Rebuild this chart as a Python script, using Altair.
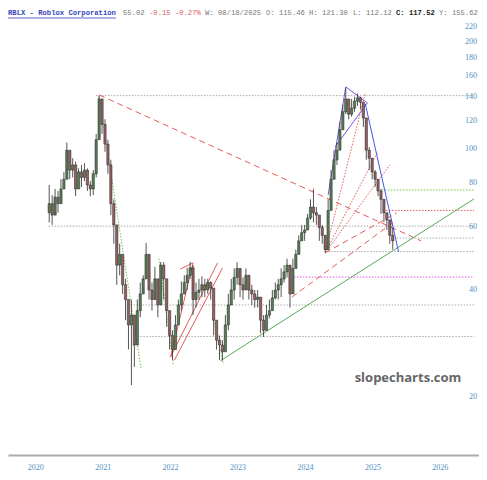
import altair as alt
import pandas as pd

# ---------------- data ----------------
closes = [70, 65, 73, 70, 77, 82, 99, 87, 90, 77,
          86, 83, 87, 79, 77, 85, 106, 138, 117, 103,
          90, 70, 61, 47, 50.4, 41.4, 37.6, 31.9, 34, 28,
          35, 39, 43, 50.4, 40, 37.6, 43, 36.3, 47, 43,
          35, 29.8, 27.2, 31.9, 36.3, 39, 42, 44, 46.2, 37.6,
          39.4, 40, 41.4, 40, 42, 40.5, 32.9, 28.9, 28, 26.8,
          31.9, 36.3, 40, 43.4, 46, 41.4, 40, 44, 40, 39,
          37.6, 38.2, 32.9, 30.8, 34, 35, 38, 40, 41.4, 43,
          45, 47, 39, 46, 50.4, 55, 58, 59, 63.8, 68.5,
          66, 65, 60, 57, 52, 67, 82, 93, 99, 113,
          127, 138, 125, 130, 136, 139, 135, 122, 99, 94,
          86, 82, 76, 72, 66, 63, 57, 55]
highs = [79, 74, 77, 76, 82, 86, 104, 99, 94, 92,
         88, 90, 91, 88, 81, 87, 110, 141, 129, 121,
         106, 93, 72, 57, 54, 50.4, 43, 37.6, 37.6, 32.9,
         37.6, 42, 44, 54.3, 50.4, 42, 46.5, 43, 48, 47.9,
         41.4, 35, 30.8, 34, 37.6, 42.3, 44, 46.2, 48, 47,
         42, 43, 43.7, 43, 43, 42.3, 40, 32.9, 29.8, 28.9,
         34, 39, 43, 46, 47.9, 46, 43.4, 46, 43.4, 41.4,
         40, 40, 38.2, 34, 36.3, 37.6, 40, 42, 43, 46,
         47, 49, 44, 49, 52, 57, 61, 61, 65.5, 72,
         77, 68.5, 63, 61, 56, 72, 87, 99, 104, 119,
         133, 148, 133, 138, 140, 143, 140, 133, 113, 101,
         90, 87, 82, 77, 70.5, 65.5, 61.6, 60]
lows = [62, 61, 67, 66, 72, 77, 87, 82, 83, 73.5,
        78, 78, 81, 76, 73.5, 74, 83, 106, 110, 98,
        85, 65, 54, 41.4, 44, 39, 32.9, 27.2, 21.6, 24.3,
        28.9, 33.5, 39, 44, 37.6, 35, 39, 33.5, 37.6, 37.6,
        31.5, 27.2, 25.4, 28, 31.9, 35, 39.2, 40, 43, 34,
        35.7, 37.6, 38.2, 38.2, 39, 37.6, 29.8, 27.2, 25.4, 25.3,
        27.2, 30.8, 36.3, 37.6, 41.4, 38.2, 37.6, 40.5, 37.6, 36.3,
        35.7, 35.7, 30.2, 29.5, 31.9, 33.3, 35, 37.6, 37.6, 38.2,
        42, 43.4, 35.7, 42, 47, 50.4, 55, 55, 60, 63,
        62, 61, 55, 54, 51, 55, 74, 85, 90, 103,
        117, 125, 121, 123, 127, 132, 129, 115, 93, 87,
        82, 78, 73.5, 65.5, 62, 59, 54, 52]
first_open = 66
start_year = 2020.2075
step_year = 0.04354

year_ticks = [2020, 2021, 2022, 2023, 2024, 2025, 2026]
price_ticks = [20, 40, 60, 80, 100, 120, 140, 160, 180, 200, 220]

# trend lines: x1, p1, x2, p2, color, style
segments = [
    (2020.948, 141.6, 2025.723, 55.0, "#e65a5a", "dashed"),
    (2022.747, 25.3, 2026.507, 72.2, "#5aaa5a", "solid"),
    (2020.948, 140.0, 2021.572, 23.9, "#77c055", "dotted"),
    (2021.833, 49.0, 2022.051, 24.6, "#77c055", "dotted"),
    (2022.646, 32.9, 2022.791, 24.7, "#77c055", "dotted"),
    (2022.007, 25.9, 2022.341, 47.7, "#e65a5a", "solid"),
    (2022.152, 45.8, 2022.341, 47.7, "#e65a5a", "solid"),
    (2022.007, 25.9, 2022.704, 47.7, "#e65a5a", "solid"),
    (2022.065, 25.4, 2022.776, 46.1, "#e65a5a", "solid"),
    (2023.806, 38.2, 2025.360, 63.0, "#e65a5a", "dashed"),
    (2024.300, 50.9, 2024.895, 143.4, "#e65a5a", "dotted"),
    (2024.300, 50.9, 2025.070, 97.2, "#e65a5a", "dotted"),
    (2024.300, 50.9, 2025.258, 90.0, "#e65a5a", "dotted"),
    (2024.300, 50.9, 2025.360, 65.9, "#e65a5a", "dashed"),
    (2024.344, 74.1, 2024.605, 149.2, "#7a55dd", "solid"),
    (2024.605, 149.2, 2024.925, 134.5, "#7a55dd", "solid"),
    (2024.446, 101.0, 2024.925, 134.5, "#7a55dd", "solid"),
    (2024.895, 133.6, 2025.389, 51.2, "#4455ee", "solid"),
]
# horizontal levels: start, price, color
levels = [
    (2020.900, 141.0, "#aaaaaa"),
    (2020.200, 60.5, "#aaaaaa"),
    (2025.142, 76.5, "#66cc44"),
    (2025.157, 67.0, "#e65a5a"),
    (2025.360, 56.0, "#aaaaaa"),
    (2024.300, 51.3, "#aaaaaa"),
    (2023.835, 43.5, "#dd55dd"),
    (2021.369, 36.3, "#aaaaaa"),
    (2021.514, 29.6, "#aaaaaa"),
]
x_end = 2026.507

# ---------------- tables ----------------
opens = [first_open] + closes[:-1]
years = [start_year + i * step_year for i in range(len(closes))]
candles = pd.DataFrame({
    "t": years, "open": opens, "close": closes,
    "high": [max(h, o, c) for h, o, c in zip(highs, opens, closes)],
    "low": [min(l, o, c) for l, o, c in zip(lows, opens, closes)],
})
candles["dir"] = ["up" if c >= o else "down" for o, c in zip(opens, closes)]

seg_df = pd.DataFrame(segments, columns=["x1", "p1", "x2", "p2", "color", "style"])
lev_df = pd.DataFrame(levels, columns=["x1", "p1", "color"])
lev_df["x2"] = x_end
lev_df["p2"] = lev_df["p1"]
lev_df["style"] = "dotted"
lines_df = pd.concat([seg_df, lev_df], ignore_index=True)

xs = alt.Scale(domain=[2019.6705, 2026.507], nice=False, zero=False)
ys = alt.Scale(type="log", domain=[13.73, 248.8], nice=False, zero=False)
xaxis = alt.Axis(values=year_ticks, format="d", title=None, grid=False, ticks=False,
                 labelColor="#4f8fbf", labelFont="Liberation Serif", labelFontSize=8,
                 labelPadding=8, domainColor="#aaaaaa", domainWidth=2)

wicks = alt.Chart(candles).mark_rule(color="#2a2a2a", strokeWidth=0.8).encode(
    x=alt.X("t:Q", scale=xs, axis=xaxis),
    y=alt.Y("low:Q", scale=ys, axis=None),
    y2="high:Q",
)
bodies = alt.Chart(candles).mark_bar(width=2.3, stroke="#222222", strokeWidth=0.5).encode(
    x=alt.X("t:Q", scale=xs, axis=xaxis),
    y=alt.Y("open:Q", scale=ys, axis=None),
    y2="close:Q",
    color=alt.Color("dir:N", scale=alt.Scale(domain=["up", "down"], range=["#557f55", "#966060"]), legend=None),
)

def line_layer(style, dash):
    mk = alt.Chart(lines_df).transform_filter(alt.datum.style == style)
    if dash:
        m = mk.mark_rule(strokeWidth=1, strokeDash=dash)
    else:
        m = mk.mark_rule(strokeWidth=1)
    return m.encode(
        x=alt.X("x1:Q", scale=xs, axis=xaxis),
        x2="x2:Q",
        y=alt.Y("p1:Q", scale=ys, axis=None),
        y2="p2:Q",
        color=alt.Color("color:N", scale=None),
    )

solid = line_layer("solid", None)
dashed = line_layer("dashed", [6, 4])
dotted = line_layer("dotted", [1.5, 1.5])

ytxt = alt.Chart(pd.DataFrame({"p": price_ticks})).mark_text(
    font="Liberation Serif", fontSize=8, color="#4f8fbf", align="right", baseline="middle"
).encode(
    x=alt.value(469),
    y=alt.Y("p:Q", scale=ys, axis=None),
    text=alt.Text("p:Q", format="d"),
)

def label(txt, x, color, bold=False, size=7.2):
    return alt.Chart(pd.DataFrame({"s": [txt]})).mark_text(
        font="Liberation Mono", fontSize=size, fontWeight="bold" if bold else "normal",
        color=color, align="left", baseline="top"
    ).encode(text="s:N", x=alt.value(x), y=alt.value(1))

header = [
    label("RBLX - Roblox Corporation", 0, "#3344bb", bold=True),
    label("55.02", 115, "#777777"),
    label("-0.15 -0.27%", 141, "#e06060"),
    label("W: 08/18/2025", 197, "#777777"),
    label("O: 115.46", 258, "#777777"),
    label("H: 121.30", 301, "#777777"),
    label("L: 112.12", 345, "#777777"),
    label("C: 117.52", 388, "#222222", bold=True),
    label("Y: 155.62", 431, "#777777"),
]
underline = alt.Chart(pd.DataFrame({"a": [0]})).mark_rule(color="#3344bb", strokeWidth=0.8).encode(
    x=alt.value(0), x2=alt.value(108), y=alt.value(10)
)
watermark = alt.Chart(pd.DataFrame({"s": ["slopecharts.com"]})).mark_text(
    font="Open Sans", fontSize=13, fontWeight="bold", color="#666666", align="center", baseline="middle"
).encode(text="s:N", x=alt.value(400), y=alt.value(370))

chart = alt.layer(
    dotted, dashed, solid, wicks, bodies, ytxt, watermark, underline, *header
).properties(
    width=471, height=447,
    autosize=alt.AutoSizeParams(type="none"),
    padding={"left": 0, "top": 0, "right": 0, "bottom": 25},
).configure_view(strokeWidth=0)

chart.save("out.html", embed_options={"renderer": "svg", "actions": False})
